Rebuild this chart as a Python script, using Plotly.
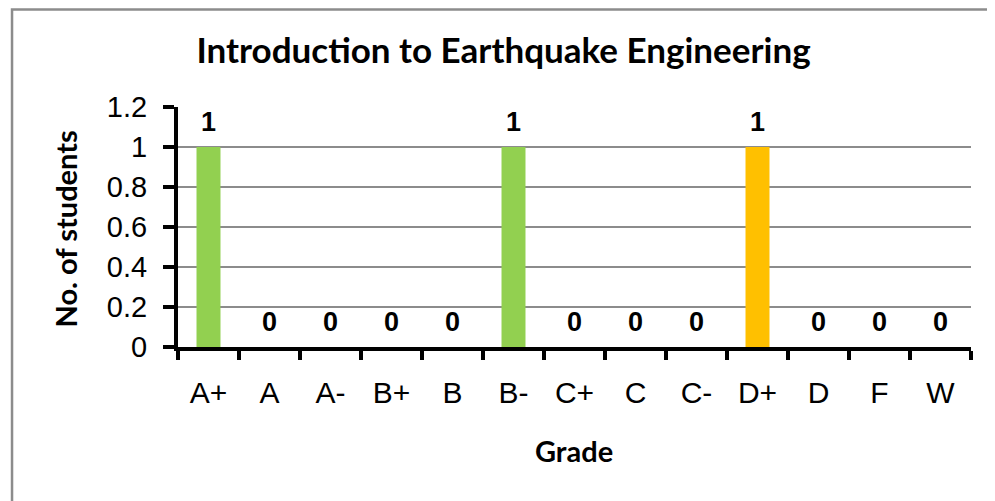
import plotly.graph_objects as go

grades = ["A+", "A", "A-", "B+", "B", "B-", "C+", "C", "C-", "D+", "D", "F", "W"]
students = [1, 0, 0, 0, 0, 1, 0, 0, 0, 1, 0, 0, 0]
bar_colors = ["#92D050", "#92D050", "#92D050", "#92D050", "#92D050", "#92D050",
              "#92D050", "#92D050", "#92D050", "#FFC000", "#92D050", "#92D050", "#92D050"]
y_ticks = [0, 0.2, 0.4, 0.6, 0.8, 1.0, 1.2]
y_tick_labels = ["0", "0.2", "0.4", "0.6", "0.8", "1", "1.2"]

title_text = "Introduction to Earthquake Engineering"
x_title = "Grade"
y_title = "No. of students"

fig = go.Figure()
fig.add_trace(go.Bar(
    x=grades, y=students,
    marker=dict(color=bar_colors, line=dict(width=0)),
    hoverinfo="x+y",
))

annotations = []
for g, v in zip(grades, students):
    annotations.append(dict(
        x=g, y=v, xref="x", yref="y", text=f"<b>{v}</b>", showarrow=False,
        yanchor="bottom", yshift=8,
        font=dict(family="Liberation Sans", size=27, color="black"),
    ))

annotations.append(dict(
    x=-0.1425, y=0.494, xref="paper", yref="paper", text=f"<b>{y_title}</b>",
    textangle=-90, showarrow=False, xanchor="center", yanchor="middle",
    font=dict(family="Lato", size=29, color="black"),
))
annotations.append(dict(
    x=0.4997, y=-0.43, xref="paper", yref="paper", text=f"<b>{x_title}</b>",
    showarrow=False, xanchor="center", yanchor="middle",
    font=dict(family="Lato", size=29, color="black"),
))

fig.update_layout(
    width=987, height=493,
    margin=dict(l=170, r=24, t=99, b=154),
    paper_bgcolor="white", plot_bgcolor="white",
    showlegend=False,
    bargap=0.607,
    title=dict(text=f"<b>{title_text}</b>", xref="paper", x=0.4105, xanchor="center",
               yref="container", y=1 - 43 / 493, yanchor="middle",
               font=dict(family="Lato", size=35, color="black")),
    annotations=annotations,
    shapes=[dict(type="rect", xref="paper", yref="paper",
                 x0=-0.2093, x1=1.04, y0=-0.7, y1=1.406,
                 line=dict(color="#8C8C8C", width=2.5), layer="below")],
)

fig.update_xaxes(
    type="category", showline=True, linecolor="black", linewidth=4,
    ticks="outside", tickson="boundaries", ticklen=9, tickwidth=4, tickcolor="black",
    showgrid=False, ticklabelstandoff=16,
    tickfont=dict(family="Liberation Sans", size=30, color="black"),
)
fig.update_yaxes(
    range=[0, 1.2], tickvals=y_ticks, ticktext=y_tick_labels,
    showline=True, linecolor="black", linewidth=4,
    ticks="outside", ticklen=11, tickwidth=4, tickcolor="black",
    showgrid=True, gridcolor="#8C8C8C", gridwidth=1.5, zeroline=False,
    ticklabelstandoff=10,
    tickfont=dict(family="Liberation Sans", size=29, color="black"),
)

fig.write_html("out.html")
